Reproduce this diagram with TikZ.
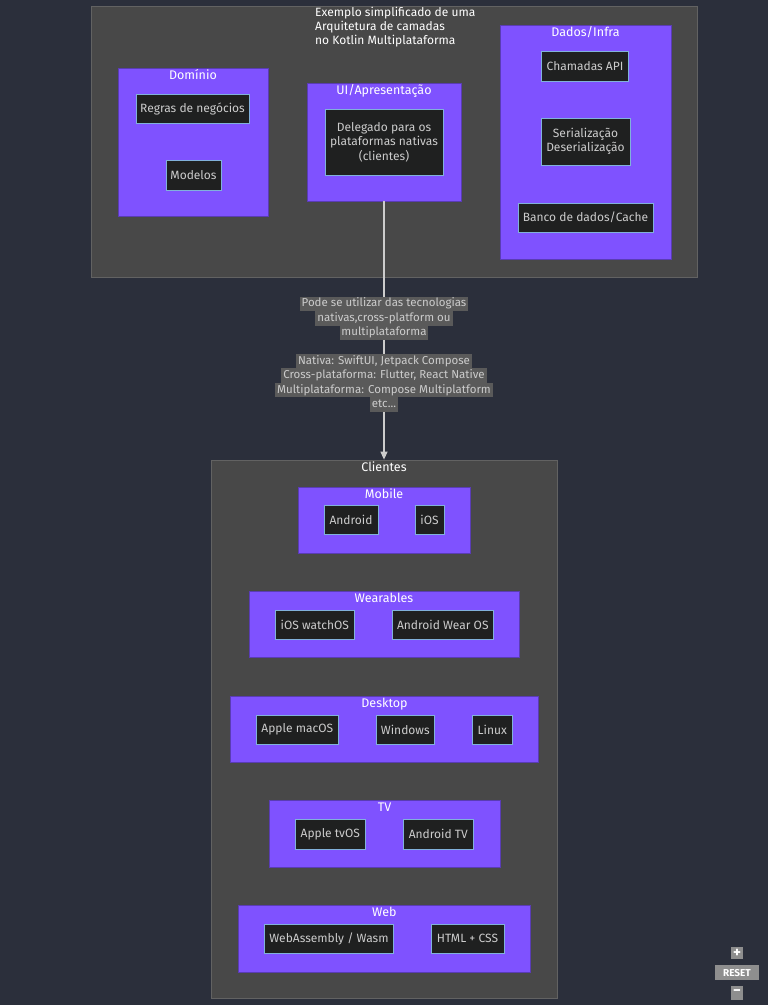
\documentclass[tikz,border=0pt]{standalone}
\usepackage{fontspec}
\setmainfont{Fira Sans}
\usepackage{tikz}
\usepackage{xcolor}
\usetikzlibrary{arrows.meta, positioning}
\definecolor{canvas}{HTML}{2B2F3B}
\definecolor{groupfill}{HTML}{484848}
\definecolor{groupline}{HTML}{626262}
\definecolor{kotlin}{HTML}{7F52FF}
\definecolor{kotlinline}{HTML}{5A3CB5}
\definecolor{itemfill}{HTML}{1F2020}
\definecolor{itemline}{HTML}{81B1DB}
\definecolor{softtext}{HTML}{CCCCCC}
\definecolor{labelfill}{HTML}{5A5A5A}
\definecolor{btnfill}{HTML}{8E8E8E}
\setlength{\fboxsep}{0pt}
\newcommand{\band}[1]{\colorbox{labelfill}{\strut\,#1\,}}

\begin{document}
\begin{tikzpicture}[x=1pt, y=-1pt,
    group/.style={fill=groupfill, draw=groupline, line width=0.8pt, inner sep=0pt},
    layer/.style={fill=kotlin, draw=kotlinline, line width=0.6pt, inner sep=0pt},
    grouplabel/.style={text=white, font=\fontsize{12.5}{14}\selectfont, inner sep=0pt},
    item/.style={fill=itemfill, draw=itemline, line width=0.6pt, text=softtext, font=\fontsize{12}{14.5}\selectfont, align=center, inner sep=0pt},
    edgelabel/.style={text=softtext, font=\fontsize{11.5}{14.5}\selectfont, align=center, inner sep=0pt},
    btn/.style={fill=btnfill, text=white, font=\bfseries\fontsize{10}{10}\selectfont, inner sep=0pt},
    arr/.style={-{Triangle[length=8pt, width=7pt]}, line width=1.2pt, softtext}
]
    \fill[canvas] (0,0) rectangle (768,1005);
    \useasboundingbox (0,0) rectangle (768,1005);

    % shared layers
    \node[group, minimum width=606, minimum height=271] (core) at (394,141.5) {};
    \node[grouplabel, font=\fontsize{12}{14}\selectfont, anchor=north west, align=left] (coretitle) at (315,7) {Exemplo simplificado de uma\\Arquitetura de camadas\\no Kotlin Multiplataforma};

    \node[layer, minimum width=150, minimum height=148] (dominio) at (193,142) {};
    \node[grouplabel, below=2pt of dominio.north] (dominiotitle) {Domínio};
    \node[item, minimum width=113, minimum height=29] (regras) at (192.5,108.5) {Regras de negócios};
    \node[item, minimum width=55, minimum height=30] (modelos) at (193.5,175) {Modelos};

    \node[layer, minimum width=154, minimum height=118] (ui) at (384,142) {};
    \node[grouplabel, below=2pt of ui.north] (uititle) {UI/Apresentação};
    \node[item, minimum width=118, minimum height=66] (delegado) at (384,142) {Delegado para os\\plataformas nativas\\(clientes)};

    \node[layer, minimum width=171, minimum height=234] (dados) at (585.5,142) {};
    \node[grouplabel, below=2pt of dados.north] (dadostitle) {Dados/Infra};
    \node[item, minimum width=87, minimum height=30] (chamadas) at (585,66) {Chamadas API};
    \node[item, minimum width=89, minimum height=47] (serial) at (585.5,141.5) {Serialização\\Deserialização};
    \node[item, minimum width=135, minimum height=29] (banco) at (585.5,217.5) {Banco de dados/Cache};

    % clients
    \node[group, minimum width=346, minimum height=538] (clientes) at (384,729) {};
    \node[grouplabel, below=2pt of clientes.north] (clientestitle) {Clientes};

    \node[layer, minimum width=172, minimum height=66] (mobile) at (384,520) {};
    \node[grouplabel, below=2pt of mobile.north] (mobiletitle) {Mobile};
    \node[item, minimum width=54, minimum height=29] (android) at (351,520.2) {Android};
    \node[item, minimum width=29, minimum height=29] (ios) at (429.5,520.2) {iOS};

    \node[layer, minimum width=270, minimum height=66] (wear) at (384,624.7) {};
    \node[grouplabel, below=2pt of wear.north] (weartitle) {Wearables};
    \node[item, minimum width=79, minimum height=29] (watchos) at (314.8,624.8) {iOS watchOS};
    \node[item, minimum width=101.7, minimum height=29] (wearos) at (442.8,624.8) {Android Wear OS};

    \node[layer, minimum width=307.6, minimum height=66] (desktop) at (384.5,729.3) {};
    \node[grouplabel, below=2pt of desktop.north] (desktoptitle) {Desktop};
    \node[item, minimum width=82, minimum height=29] (macos) at (297.3,729.5) {Apple macOS};
    \node[item, minimum width=58.7, minimum height=29] (windows) at (405.3,729.5) {Windows};
    \node[item, minimum width=39.3, minimum height=29] (linux) at (492.3,729.5) {Linux};

    \node[layer, minimum width=231, minimum height=66.6] (tv) at (384.5,834) {};
    \node[grouplabel, below=2pt of tv.north] (tvtitle) {TV};
    \node[item, minimum width=70, minimum height=29.3] (tvos) at (330.3,834.3) {Apple tvOS};
    \node[item, minimum width=70.7, minimum height=29.3] (androidtv) at (438.3,834.3) {Android TV};

    \node[layer, minimum width=291.3, minimum height=66.3] (web) at (384.3,938.8) {};
    \node[grouplabel, below=2pt of web.north] (webtitle) {Web};
    \node[item, minimum width=128.6, minimum height=29.7] (wasm) at (329,938.8) {WebAssembly / Wasm};
    \node[item, minimum width=73, minimum height=29.7] (htmlcss) at (467.5,938.8) {HTML + CSS};

    % delegation edge
    \draw[arr] (ui.south) -- node[edgelabel, pos=0.453] (notetech) {\band{Pode se utilizar das tecnologias}\\\band{nativas,cross-platform ou}\\\band{multiplataforma}}
        node[edgelabel, pos=0.703] (noteex) {\band{Nativa: SwiftUI, Jetpack Compose}\\\band{Cross-plataforma: Flutter, React Native}\\\band{Multiplataforma: Compose Multiplatform}\\\band{etc...}} (clientes.north);

    % viewer buttons
    \node[btn, minimum width=12.6, minimum height=12, font=\bfseries\fontsize{15}{15}\selectfont] (zoomin) at (737,953.3) {+};
    \node[btn, minimum width=44, minimum height=14.7] (reset) at (737,972.7) {RESET};
    \node[btn, minimum width=12.6, minimum height=14, font=\bfseries\fontsize{15}{15}\selectfont] (zoomout) at (737,993) {−};
\end{tikzpicture}
\end{document}
